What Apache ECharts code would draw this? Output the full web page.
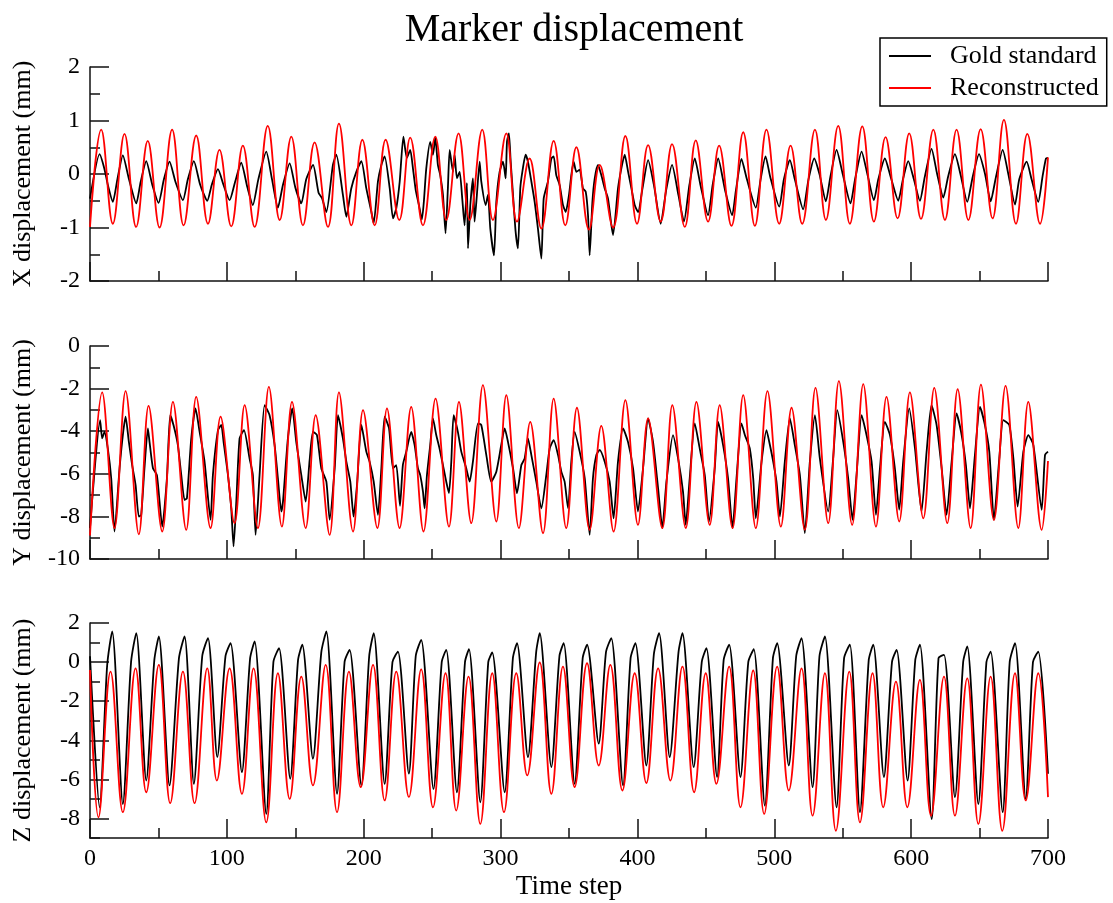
<!DOCTYPE html>
<html><head><meta charset="utf-8">
<script src="https://cdn.jsdelivr.net/npm/echarts@6/dist/echarts.min.js"></script>
<style>html,body{margin:0;padding:0;background:#fff}#c{width:1113px;height:903px}</style>
</head><body><div id="c"></div>
<script>
// ---------- DATA (time step, displacement in mm) ----------
const seriesNames = ['Gold standard', 'Reconstructed'];
const timeTicks = [0, 100, 200, 300, 400, 500, 600, 700];
const zTickLabels = [-8, -6, -4, -2, 0, 2];

const xGold = [[0,-0.46],[7,0.37],[10.5,0.1],[13,-0.2],[16.7,-0.52],[20,-0.1],[24,0.35],[28.5,-0.1],[33.8,-0.55],[37,-0.15],[41.1,0.24],[45.5,-0.2],[50.1,-0.54],[54,-0.1],[58.1,0.23],[62.5,-0.15],[67.9,-0.49],[71.5,-0.1],[75.9,0.24],[80.5,-0.2],[85.7,-0.5],[89,-0.2],[93.5,0.09],[97.5,-0.2],[102,-0.49],[106,-0.15],[110.5,0.21],[115,-0.25],[119,-0.58],[123,-0.1],[128.8,0.42],[133,-0.1],[137.3,-0.63],[141,-0.2],[145.9,0.2],[150,-0.25],[154.4,-0.55],[158,-0.1],[163,0.17],[167,-0.35],[169.5,-0.45],[172.7,-0.71],[177.5,0.17],[180,0.36],[184.8,-0.39],[187.3,-0.8],[190.9,-0.27],[194.6,0.04],[198.3,0.24],[201.9,-0.27],[205.6,-0.71],[207.3,-0.92],[210.4,-0.14],[212.9,0.17],[215.3,0.33],[219,-0.27],[221.4,-0.83],[223.8,-0.64],[226.3,-0.14],[229,0.7],[231.5,0.3],[234,0.45],[236,0.1],[238,-0.3],[240.5,-0.6],[242.5,-0.85],[244,-0.5],[245.7,0.1],[248.6,0.6],[250.6,0.36],[252.3,0.68],[254.2,0.17],[255.9,-0.02],[257.9,-0.39],[259.8,-1.11],[261.5,-0.27],[262.8,0.45],[265.2,0.04],[266.4,0.36],[268.1,-0.08],[270.1,0.04],[272,-0.46],[273.7,-0.96],[275.4,-0.17],[276.2,-1.39],[277.9,-0.58],[279.8,-0.08],[281,-0.89],[282.7,-0.39],[284.7,0.23],[285.9,-0.14],[289.1,-0.58],[290.8,-0.39],[292.5,-1.02],[295.2,-1.52],[296.9,-0.52],[299.3,0.04],[301.8,0.23],[303.7,-0.08],[304.7,0.61],[306.1,0.76],[307.4,0.23],[309.1,-0.39],[311,-1.08],[312.7,-1.39],[314.4,-0.27],[315.9,0.04],[318.3,0.36],[320,0.23],[322.5,-0.14],[324.9,-0.52],[327.3,-1.02],[329.8,-1.58],[331.5,-0.46],[334.6,-0.14],[337.1,0.29],[338.8,0.33],[340.7,-0.02],[343.2,-0.21],[345.6,-0.58],[347.6,-0.71],[350,-0.39],[351.7,-0.02],[353.4,0.23],[355.4,0.04],[357.8,0.08],[360.2,-0.27],[362.2,-0.33],[363.9,-0.77],[365.1,-1.52],[367.1,-0.52],[368.8,-0.08],[371.2,0.17],[373.6,-0.02],[376.1,-0.27],[378.5,-0.46],[381,-0.96],[382.2,-1.14],[385.8,-0.27],[388.3,0.11],[390.7,0.36],[393.2,0.04],[395.6,-0.27],[398,-0.58],[400.5,-0.71],[403.5,-0.3],[407.8,0.26],[412,-0.2],[417,-0.93],[421,-0.3],[425.3,0.17],[430,-0.4],[434,-0.89],[438,-0.2],[441.9,0.29],[446,-0.2],[451.6,-0.77],[455,-0.2],[459,0.29],[464,-0.3],[469.2,-0.77],[472,-0.3],[476,0.28],[480,-0.1],[486.5,-0.63],[490,-0.1],[493.6,0.33],[497,-0.05],[503.6,-0.61],[507,-0.1],[511.4,0.26],[515,-0.1],[521.1,-0.66],[525,-0.1],[529.2,0.29],[533,0.0],[537.7,-0.51],[541,-0.05],[545.5,0.45],[550,0.0],[555.7,-0.55],[559,-0.1],[563.8,0.42],[568,0.0],[572.8,-0.49],[576,-0.1],[580.8,0.29],[585,-0.05],[590.6,-0.5],[594,-0.1],[597.9,0.24],[602,-0.1],[606.4,-0.5],[610,-0.05],[614.9,0.47],[619,0.0],[623.5,-0.44],[627,-0.05],[632,0.37],[636,0.0],[641,-0.52],[645,-0.05],[649.6,0.37],[654,0.0],[658.1,-0.51],[662,-0.05],[666.9,0.45],[671,0.0],[675.9,-0.57],[679,-0.1],[684.4,0.23],[688,-0.1],[692.9,-0.52],[696,-0.05],[698.5,0.29],[700,0.3]];

const xRecon = [[0,-0.99],[8.2,0.83],[16.7,-0.93],[25.2,0.75],[33.7,-0.99],[42.2,0.62],[50.8,-1.0],[60,0.83],[68.4,-0.96],[77.6,0.72],[86.2,-0.93],[94.6,0.45],[103.2,-0.98],[111.7,0.53],[120.3,-0.99],[129.9,0.9],[138.6,-0.86],[147.1,0.7],[155.6,-0.96],[164.1,0.59],[173.9,-0.99],[181.9,0.94],[191,-0.96],[199,0.64],[208,-0.96],[216,0.64],[226,-0.86],[234,0.68],[243.3,-0.96],[252.3,0.7],[260.3,-0.86],[269.3,0.76],[277.4,-0.86],[286.6,0.83],[294.4,-0.86],[304.2,0.76],[312,-0.89],[321.2,0.29],[329.8,-1.02],[338.8,0.62],[347.3,-0.96],[355.4,0.5],[364.6,-1.04],[372.4,0.17],[382.2,-1.0],[391.2,0.71],[399.7,-0.93],[407.8,0.54],[417,-0.89],[425.3,0.56],[434.6,-0.99],[442.6,0.63],[451.6,-0.89],[459.7,0.53],[468.7,-0.97],[477.3,0.78],[485.8,-0.97],[494.3,0.83],[503.6,-0.93],[511.9,0.53],[520.4,-0.93],[529.7,0.83],[537.7,-0.86],[546.7,0.9],[555.2,-0.93],[564.3,0.89],[572.8,-0.89],[581.3,0.69],[590.1,-0.83],[598.6,0.76],[607.2,-0.84],[616.2,0.83],[624.7,-0.86],[633.2,0.83],[641.8,-0.86],[650.8,0.84],[659.5,-0.83],[667.8,1.01],[676.6,-0.93],[684.9,0.75],[694.2,-0.93],[700,0.31]];

const yGold = [[0,-8.55],[7.4,-3.48],[8.9,-4.34],[10.6,-4.03],[13,-4.81],[15.5,-6.21],[17.9,-8.71],[21.6,-5.74],[24,-4.18],[26,-3.32],[28.4,-4.5],[30.8,-5.59],[33.3,-6.52],[35.7,-8.01],[37.4,-7.93],[39.8,-5.74],[42.3,-3.87],[43.5,-4.5],[46,-5.74],[48.9,-6.06],[52.8,-8.48],[56.2,-6.21],[58.6,-3.25],[61,-3.71],[64.2,-4.65],[66.7,-6.06],[69.1,-7.23],[70.8,-7.15],[74,-4.34],[77.1,-2.93],[80.1,-4.03],[83.7,-5.43],[88.1,-8.16],[89.8,-6.06],[93.5,-3.95],[95.9,-3.71],[97.6,-4.5],[100.8,-6.06],[103.2,-7.62],[104.9,-9.41],[106.9,-7.31],[109.3,-4.34],[112.5,-3.95],[116.6,-5.28],[119,-6.06],[121,-8.87],[123.9,-6.06],[127.6,-2.78],[131.2,-3.25],[134.9,-4.65],[137.3,-6.21],[139.8,-7.77],[141,-7.31],[144.6,-4.34],[147.8,-2.93],[150.7,-4.5],[154.4,-6.06],[157.6,-7.31],[160.5,-5.35],[162.9,-4.03],[165.8,-4.18],[169,-5.74],[172.7,-6.37],[175.1,-8.16],[178.8,-5.74],[181.2,-3.25],[184.8,-4.34],[187.3,-5.43],[190.2,-6.37],[192.6,-8.01],[195.1,-6.52],[198.3,-3.71],[201.9,-4.96],[204.3,-5.43],[207.3,-6.37],[210.4,-7.93],[212.9,-5.74],[215.3,-3.32],[218.5,-3.87],[221.4,-5.74],[223.8,-5.59],[226.5,-7.5],[228.6,-5.59],[231.1,-4.96],[234.7,-4.03],[237.2,-4.65],[239.6,-5.74],[241.3,-6.06],[243.3,-6.84],[244.5,-7.62],[246.2,-6.06],[248.6,-4.65],[250.6,-3.4],[253,-4.18],[255.4,-4.81],[257.9,-5.59],[260.3,-6.37],[262.3,-6.91],[264,-5.43],[265.7,-3.25],[268.8,-4.03],[271.3,-4.96],[274.9,-5.74],[277.4,-6.37],[279.8,-5.43],[283.5,-3.63],[285.9,-3.71],[289.6,-5.12],[293.2,-6.37],[296.9,-5.9],[300.5,-4.65],[303,-3.87],[305.4,-4.5],[309.1,-5.74],[312,-6.91],[315.2,-5.59],[317.6,-5.28],[320,-4.34],[322.5,-5.12],[326.1,-6.37],[329.8,-7.62],[333.4,-6.06],[335.9,-4.81],[338.8,-4.42],[342,-5.12],[344.4,-5.9],[346.8,-6.37],[349.3,-7.62],[351.7,-5.43],[354.1,-4.03],[357.8,-4.96],[361.5,-6.21],[365.1,-8.87],[367.5,-6.21],[370,-5.12],[372.4,-4.88],[376.1,-5.43],[379.7,-6.37],[382.6,-8.09],[385.8,-5.43],[389.5,-3.87],[393.1,-4.5],[396.8,-5.74],[400.4,-7.77],[404.1,-5.74],[407.8,-3.4],[411.4,-4.5],[415.1,-6.68],[418.2,-8.55],[421.2,-6.37],[426,-4.18],[429.7,-5.28],[433.3,-6.84],[435.3,-8.4],[438.2,-6.21],[441.9,-3.63],[445.5,-4.81],[449.2,-6.06],[452.3,-8.24],[456.5,-5.74],[458.9,-3.56],[462.6,-4.65],[466.2,-6.21],[469.5,-8.55],[472.4,-6.21],[476,-3.63],[478.5,-4.18],[482.1,-4.81],[484.6,-6.21],[486.5,-8.09],[490.7,-5.43],[494.3,-3.95],[496.8,-4.65],[499.2,-5.43],[501.6,-6.37],[504.1,-8.01],[507.7,-5.43],[511.4,-3.4],[515,-4.65],[518.7,-6.06],[522.3,-8.79],[526,-5.43],[529.7,-3.25],[533.3,-5.28],[539.4,-7.77],[543,-5.28],[546,-3.01],[550.4,-4.5],[554,-6.21],[557.2,-8.16],[560.1,-6.06],[563.8,-3.25],[567.4,-4.18],[571.1,-5.43],[574.3,-7.93],[577.2,-5.74],[580.8,-3.56],[584.5,-4.18],[588.1,-5.74],[591.3,-7.69],[594.2,-5.43],[598.6,-2.93],[602.8,-4.81],[607.6,-7.77],[611.3,-4.96],[614.9,-2.78],[618.6,-3.71],[622.3,-5.74],[625.9,-7.93],[629.6,-5.43],[633.2,-3.17],[636.9,-4.18],[640,-5.59],[643,-7.62],[646.6,-5.12],[650.3,-2.86],[653.9,-3.71],[657.1,-4.96],[660.5,-8.16],[664.4,-5.28],[667.3,-3.48],[671.7,-3.71],[674.7,-5.28],[677.8,-7.54],[682,-4.96],[685.6,-4.18],[689.3,-4.65],[695.4,-7.69],[697.8,-5.12],[700,-4.96]];

const yRecon = [[0,-8.9],[8.9,-2.18],[17.9,-8.55],[26,-2.12],[35.7,-8.84],[42.8,-2.81],[52.8,-8.71],[60.6,-2.62],[70.3,-8.63],[77.6,-2.39],[88.1,-8.55],[95.4,-3.32],[105.6,-8.32],[113,-2.78],[122.7,-8.55],[130.7,-1.92],[140.2,-8.48],[147.6,-2.62],[157.6,-8.55],[164.9,-3.25],[175.1,-8.87],[181.9,-2.18],[192.2,-8.71],[199.5,-3.01],[210,-8.55],[217,-2.93],[226.2,-8.55],[234.7,-2.86],[243.7,-8.71],[252.5,-2.47],[262.3,-8.48],[269.6,-2.62],[278.6,-8.32],[287.1,-1.84],[296.9,-8.24],[304.2,-2.31],[313.4,-8.55],[321.7,-3.56],[331,-8.79],[338.8,-2.47],[348,-8.55],[355.8,-2.9],[365.1,-8.63],[373.6,-3.75],[382.6,-8.71],[391.2,-2.54],[400.4,-8.4],[407.8,-3.4],[418.2,-8.55],[425.5,-2.78],[435.3,-8.55],[443.1,-2.62],[452.8,-8.4],[460.1,-2.78],[469.5,-8.55],[477.3,-2.31],[486.5,-8.55],[495,-2.12],[504.8,-8.48],[512.6,-2.9],[522.3,-8.63],[530.1,-1.97],[539.4,-8.32],[547.2,-1.65],[556.9,-8.4],[565,-1.79],[574.3,-8.48],[582,-2.39],[591.3,-8.24],[599.1,-2.18],[608.9,-8.09],[616.9,-1.97],[626.4,-8.32],[634,-2.03],[643.5,-8.55],[651,-1.81],[660.5,-8.17],[669,-1.87],[678.3,-8.55],[685.6,-2.62],[695.4,-8.63],[700,-5.4]];

const zGold = [[0,0.3],[7,-7.43],[12.5,-0.2],[16.2,1.57],[24,-7.26],[30,0.0],[33.8,1.48],[41.1,-6.06],[47,0.1],[50.3,1.31],[58.1,-6.31],[65,0.2],[69.1,1.31],[75.9,-6.23],[82,0.3],[86.2,1.23],[93,-4.86],[99,0.3],[102.7,0.97],[111,-5.63],[117,0.2],[120.3,1.06],[128.8,-7.77],[134,0.0],[138.1,0.71],[146.3,-5.97],[152,0.1],[155.1,0.89],[162.9,-4.94],[169,0.5],[172.7,1.57],[180.5,-6.74],[186,0.0],[189.7,0.63],[198.3,-6.31],[204,0.3],[207.3,1.48],[215.3,-6.23],[221,0.0],[225,0.54],[233,-5.71],[238,0.3],[242,1.14],[251,-6.49],[257,0.0],[260.3,0.63],[268.1,-6.66],[274,0.0],[276.9,0.66],[285.2,-7.17],[291,0.0],[293.9,0.49],[303,-6.66],[309,0.2],[312,0.97],[320,-4.86],[326,0.5],[328.6,1.48],[337.1,-5.37],[343,0.3],[346.1,0.97],[354.1,-6.23],[360,0.2],[363.2,0.89],[371.7,-4.17],[377,0.5],[380.9,1.23],[389.5,-6.31],[395,0.2],[398.5,0.97],[406.5,-5.29],[412,0.4],[415.8,1.48],[423.6,-4.86],[430,0.5],[432.9,1.48],[441.1,-5.37],[447,0.0],[450.4,0.71],[458.2,-5.88],[463,0.1],[467,0.89],[475.3,-5.88],[481,0.0],[485,0.66],[493.1,-7.34],[499,0.2],[502.1,0.97],[510.6,-5.29],[516,0.3],[519.9,1.23],[528,-6.4],[533,0.3],[537,1.31],[545.5,-7.43],[551,0.2],[555.2,0.89],[562.6,-7.68],[569,0.1],[572.3,0.89],[580.1,-5.88],[586,0.0],[589.4,0.63],[597.4,-6.06],[603,0.1],[606.4,0.89],[615,-8.03],[620,0.2],[624,0.37],[632,-6.91],[638,0.0],[641,0.8],[649.1,-7.26],[655,0.0],[658.1,0.54],[666.9,-7.68],[672,0.0],[675.9,0.97],[683.7,-7.0],[689,0.0],[692.9,0.54],[700,-5.71]];

const zRecon = [[0,-0.4],[6.2,-7.94],[15,-0.49],[24,-7.68],[33.3,-0.32],[41.1,-6.66],[50.3,-0.14],[58.6,-7.22],[67.9,-0.49],[76.4,-7.22],[85.7,-0.32],[92.7,-6.06],[102,-0.32],[111,-6.74],[119.5,-0.32],[128.8,-8.2],[137.3,-0.57],[145.9,-7.0],[154.4,-0.74],[162.9,-6.31],[172.2,-0.14],[180.5,-7.68],[189.2,-0.49],[197.8,-6.4],[206.8,-0.14],[215.3,-7.08],[223.8,-0.49],[233,-6.9],[242,-0.37],[250.6,-7.43],[259.8,-0.57],[267.6,-7.6],[276.6,-0.74],[285.2,-8.28],[293.9,-0.57],[302.5,-7.68],[311.5,-0.57],[319.5,-5.8],[328.6,-0.02],[337.1,-6.74],[345.6,-0.23],[354.1,-6.4],[363.2,-0.06],[371.7,-5.29],[380.2,-0.14],[389,-6.57],[398,-0.57],[406.5,-6.19],[415.1,-0.32],[424.1,-6.06],[432.9,-0.23],[441.4,-6.66],[449.9,-0.57],[457.7,-6.23],[467,-0.23],[475.3,-7.43],[484.6,-0.43],[492.6,-7.77],[502.1,-0.23],[510.6,-6.57],[519.9,-0.32],[528,-7.86],[537,-0.57],[545,-8.63],[554.8,-0.49],[562.6,-8.2],[571.8,-0.57],[579.6,-7.43],[588.9,-1.0],[597.2,-7.43],[606.4,-0.91],[614.5,-7.86],[624,-0.74],[632,-7.86],[641,-0.83],[649.1,-8.28],[658.1,-0.74],[666.6,-8.63],[675.9,-0.57],[683.7,-7.08],[692.9,-0.57],[700,-6.91]];

// ---------- CHART ----------
const FONT = 'Liberation Serif';
const AX = '#111';
const grids = [
  {left: 90, right: 65, top: 67, height: 214},
  {left: 90, right: 65, top: 346, height: 213},
  {left: 90, right: 65, top: 623, height: 215}
];
function xAxis(g, last) {
  return {
    type: 'value', gridIndex: g, min: timeTicks[0], max: timeTicks[timeTicks.length - 1], interval: 100,
    axisLine: {show: true, onZero: false, lineStyle: {color: AX, width: 1.5}},
    axisTick: {show: true, inside: true, length: 19, lineStyle: {color: AX, width: 1.5}},
    minorTick: {show: true, splitNumber: 2, length: 10, lineStyle: {color: AX, width: 1.5}},
    splitLine: {show: false},
    axisLabel: {show: last, fontFamily: FONT, fontSize: 24, color: '#000', margin: 9},
    name: last ? 'Time step' : '', nameLocation: 'middle', nameGap: 35,
    nameTextStyle: {fontFamily: FONT, fontSize: 27, color: '#000'}
  };
}
function yAxis(g, min, max, interval, name, extra) {
  return Object.assign({
    type: 'value', gridIndex: g, min, max, interval, position: 'left',
    axisLine: {show: true, onZero: false, lineStyle: {color: AX, width: 1.5}},
    axisTick: {show: true, inside: true, length: 19, lineStyle: {color: AX, width: 1.5}},
    minorTick: {show: true, splitNumber: 2, length: 10, lineStyle: {color: AX, width: 1.5}},
    splitLine: {show: false},
    axisLabel: {fontFamily: FONT, fontSize: 24, color: '#000', margin: 10},
    name, nameLocation: 'middle', nameGap: 54,
    nameTextStyle: {fontFamily: FONT, fontSize: 26, color: '#000'}
  }, extra || {});
}
const yAxes = [
  yAxis(0, -2, 2, 1, 'X displacement (mm)'),
  yAxis(1, -10, 0, 2, 'Y displacement (mm)'),
  yAxis(2, -9, 2, 1, 'Z displacement (mm)', {
    axisTick: {show: true, inside: true, length: 10, lineStyle: {color: AX, width: 1.5}},
    minorTick: {show: false},
    axisLabel: {fontFamily: FONT, fontSize: 24, color: '#000', margin: 10,
      formatter: v => (zTickLabels.indexOf(v) >= 0 ? String(v) : '')}
  }),
  yAxis(2, -9, 2, 1, '', {
    axisLine: {show: false},
    axisTick: {show: true, inside: true, length: 19, customValues: zTickLabels, lineStyle: {color: AX, width: 1.5}},
    minorTick: {show: false},
    axisLabel: {show: false}
  })
];
function line(name, data, g, yi, color, smooth) {
  return {
    name, type: 'line', data, xAxisIndex: g, yAxisIndex: yi,
    symbol: 'none', showSymbol: false, smooth, animation: false,
    lineStyle: {color, width: 1.8}, itemStyle: {color}
  };
}
const chart = echarts.init(document.getElementById('c'), null, {renderer: 'canvas'});
chart.setOption({
  animation: false,
  backgroundColor: '#fff',
  title: {
    text: 'Marker displacement', left: 569, top: 5, textAlign: 'center',
    textStyle: {fontFamily: FONT, fontSize: 40, fontWeight: 'normal', color: '#000'}
  },
  legend: {
    data: seriesNames, left: 880, top: 38, orient: 'vertical',
    icon: 'rect', itemWidth: 42, itemHeight: 2, itemGap: 6, padding: [5, 8, 5, 9],
    borderColor: '#000', borderWidth: 1.5, backgroundColor: '#fff',
    textStyle: {fontFamily: FONT, fontSize: 26, color: '#000', padding: [0, 0, 0, 14]}
  },
  grid: grids,
  xAxis: [xAxis(0, false), xAxis(1, false), xAxis(2, true)],
  yAxis: yAxes,
  series: [
    line(seriesNames[0], xGold, 0, 0, '#000000', 0.2),
    line(seriesNames[1], xRecon, 0, 0, '#ff0000', 0.4),
    line(seriesNames[0], yGold, 1, 1, '#000000', 0.2),
    line(seriesNames[1], yRecon, 1, 1, '#ff0000', 0.35),
    line(seriesNames[0], zGold, 2, 2, '#000000', 0.25),
    line(seriesNames[1], zRecon, 2, 2, '#ff0000', 0.4)
  ]
});
</script>
</body></html>
